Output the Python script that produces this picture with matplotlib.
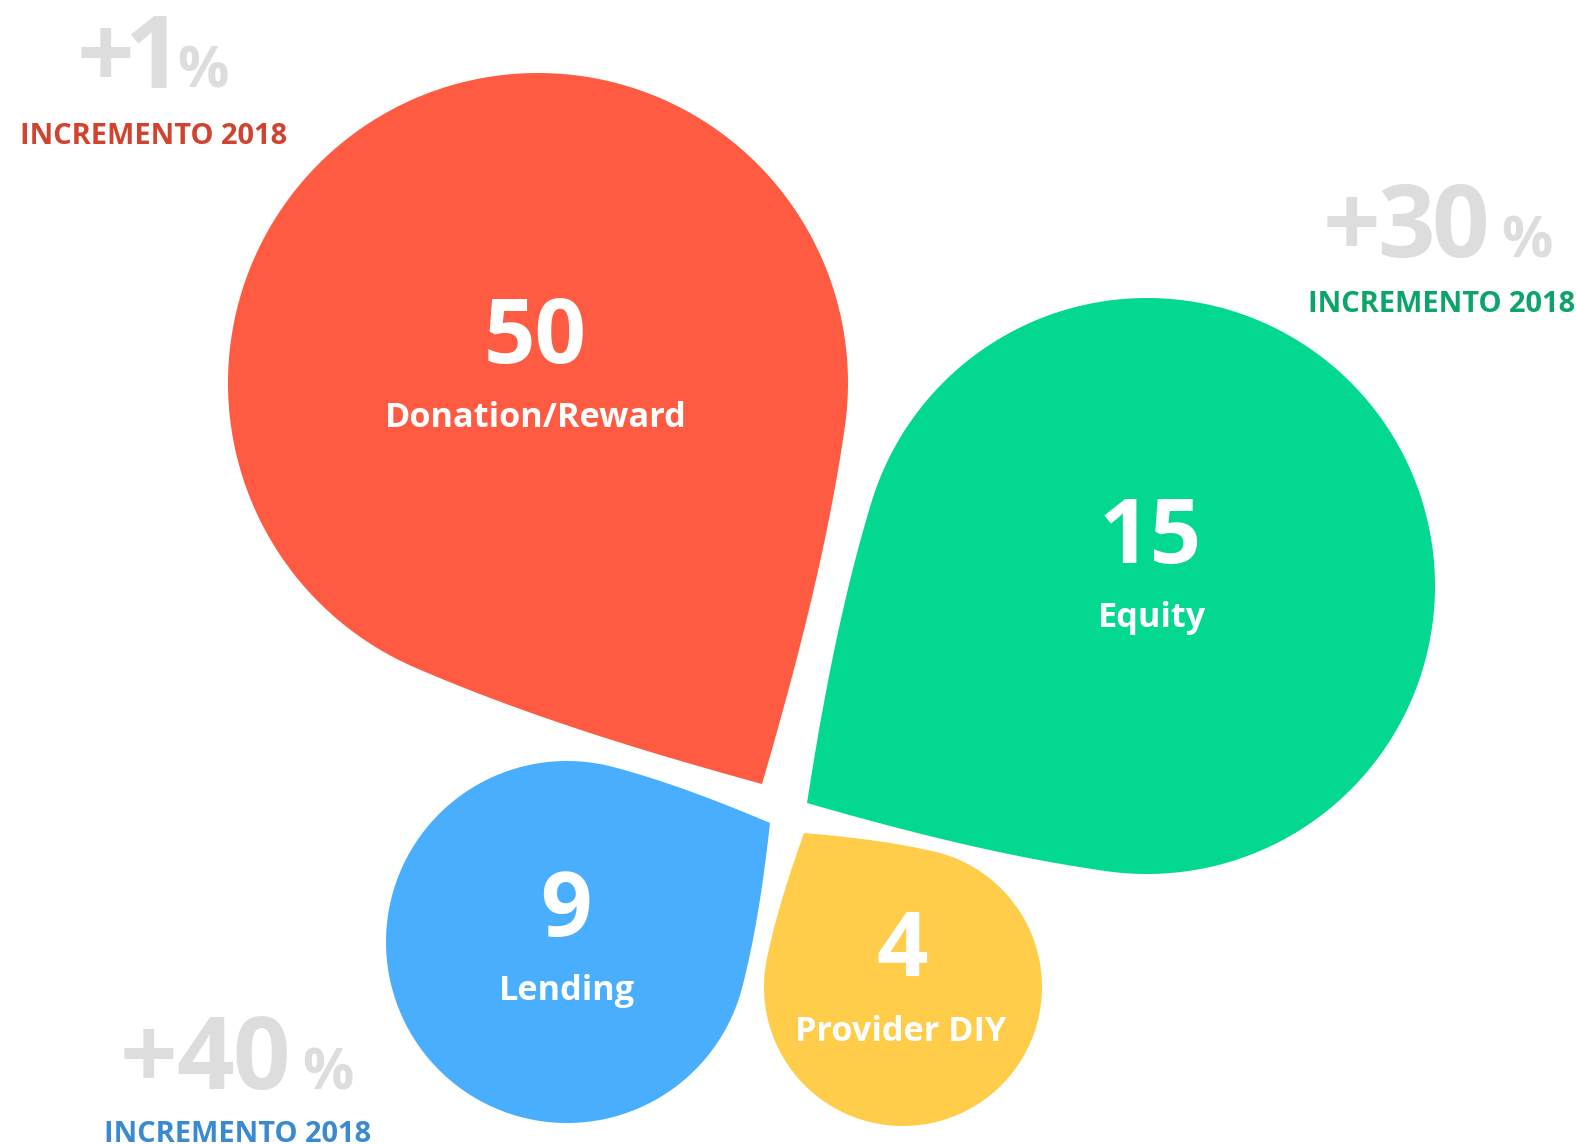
import numpy as np
import matplotlib
matplotlib.use("Agg")
import matplotlib.pyplot as plt
from matplotlib.font_manager import FontProperties
from matplotlib.textpath import TextPath

# dati
categorie = ["Donation/Reward", "Equity", "Lending", "Provider DIY"]
valori = [50, 15, 9, 4]
incrementi = ["+1", "+30", "+40", None]
etichetta_incremento = "INCREMENTO 2018"

# colori
colori = ["#FF5A42", "#02D88F", "#4AAEFF", "#FFCD4A"]
colori_testo = ["#CF432F", "#0CA468", "#3B8AD0", None]
grigio = "#DDDDDD"

# layout dei petali (coordinate in pixel): centro, raggio, punta
centri = [(538, 383), (1147, 586), (567, 942), (903, 987)]
raggi = [310, 288, 181, 139]
punte = [(762, 784), (807, 803), (770, 823), (804, 833)]
# posizione del numero (x, baseline) e della categoria
pos_numeri = [(535, 363), (1150, 563), (566, 936), (902, 976)]
pos_etichette = [(536, 427), (1152, 627), (567, 1000), (901, 1041)]
# blocchi "incremento": centro x, baseline numero grande, centro x testo, baseline testo
pos_incr = [(154, 88, 154, 144), (1439, 257, 1442, 312), (238, 1089, 238, 1142), None]
spazio_pct = [9, 18, 17, None]   # spazio (px) tra numero grande e "%"

DPI = 100


def fp(size, weight="bold"):
    return FontProperties(family="Open Sans", weight=weight, size=size)


def larghezza_ink(s, prop):
    return TextPath((0, 0), s, prop=prop).get_extents().width * DPI / 72


def bezier(p0, p1, p2, p3, n=60):
    t = np.linspace(0, 1, n)[:, None]
    return ((1 - t) ** 3) * p0 + 3 * ((1 - t) ** 2) * t * p1 + 3 * (1 - t) * t ** 2 * p2 + t ** 3 * p3


def petalo(centro, r, punta, extra=np.radians(5), allarga=np.radians(3)):
    c = np.array(centro, float)
    T = np.array(punta, float)
    v = T - c
    d = np.hypot(*v)
    phi = np.arctan2(v[1], v[0])
    alpha = np.arccos(r / d)
    beta = alpha + extra
    pts = []
    # lato 1: dalla punta al cerchio
    a1 = phi + beta
    P1 = c + r * np.array([np.cos(a1), np.sin(a1)])
    t1 = np.array([np.sin(a1), -np.cos(a1)])
    dir1 = phi + np.pi - (np.pi / 2 - alpha) - allarga
    u1 = np.array([np.cos(dir1), np.sin(dir1)])
    L1 = np.hypot(*(P1 - T))
    pts.append(bezier(T, T + u1 * L1 / 3, P1 + t1 * L1 / 3, P1))
    # arco
    a2 = phi - beta + 2 * np.pi
    ang = np.linspace(a1, a2, 300)
    pts.append(c + r * np.column_stack([np.cos(ang), np.sin(ang)]))
    # lato 2: dal cerchio alla punta
    P2 = c + r * np.array([np.cos(a2), np.sin(a2)])
    t2 = np.array([-np.sin(a2), np.cos(a2)])
    dir2 = phi + np.pi + (np.pi / 2 - alpha) + allarga
    u2 = np.array([np.cos(dir2), np.sin(dir2)])
    L2 = np.hypot(*(P2 - T))
    pts.append(bezier(P2, P2 + t2 * L2 / 3, T + u2 * L2 / 3, T))
    return np.vstack(pts)


fig = plt.figure(figsize=(15.76, 11.44), dpi=DPI)
ax = fig.add_axes([0, 0, 1, 1])
ax.set_xlim(0, 1576)
ax.set_ylim(1144, 0)
ax.axis("off")

for i in range(len(valori)):
    forma = petalo(centri[i], raggi[i], punte[i])
    ax.fill(forma[:, 0], forma[:, 1], color=colori[i], lw=0)
    x, y = pos_numeri[i]
    ax.text(x, y, str(valori[i]), ha="center", va="baseline", color="white",
            fontproperties=fp(65))
    x, y = pos_etichette[i]
    ax.text(x, y, categorie[i], ha="center", va="baseline", color="white",
            fontproperties=fp(24.7))

# blocchi incremento: numero grande grigio con "%" piccolo, lettere strette
for i in range(len(valori)):
    if incrementi[i] is None:
        continue
    cx, yb, cx2, yt = pos_incr[i]
    caratteri = list(incrementi[i]) + ["%"]
    props = [fp(72.5)] * len(incrementi[i]) + [fp(41)]
    spazi = [5] + [4] * (len(incrementi[i]) - 2) + [spazio_pct[i], 0]
    larghezze = [larghezza_ink(ch, p) for ch, p in zip(caratteri, props)]
    totale = sum(larghezze) + sum(spazi[:-1])
    x = cx - totale / 2
    for ch, p, w, g in zip(caratteri, props, larghezze, spazi):
        ax.text(x + w / 2, yb, ch, ha="center", va="baseline", color=grigio, fontproperties=p)
        x += w + g
    ax.text(cx2, yt, etichetta_incremento, ha="center", va="baseline", color=colori_testo[i],
            fontproperties=fp(20.9))

fig.savefig("out.png", dpi=DPI, facecolor="white")
